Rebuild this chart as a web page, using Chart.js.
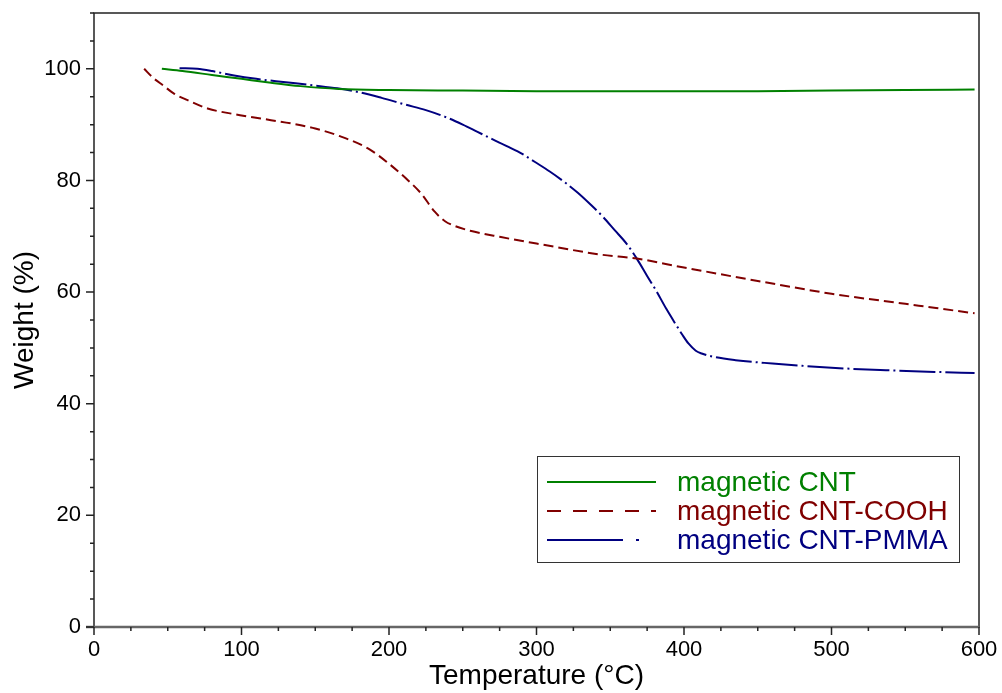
<!DOCTYPE html>
<html lang="en">
<head>
  <meta charset="UTF-8">
  <script src="https://cdn.jsdelivr.net/npm/chart.js@4.4.0/dist/chart.umd.min.js"></script>
  <title>TGA - magnetic CNT</title>
  <style>
    body { margin: 0; background: #fff; }
  </style>
</head>
<body>
  <canvas id="chart" width="1002" height="693"></canvas>

  <script>
    // 01 data (temperature in °C, weight in %)
    const cntTemp   = [46, 60, 80, 100, 120, 140, 166, 200, 250, 300, 350, 400, 450, 500, 550, 597];
    const cntWeight = [100.0, 99.6, 98.9, 98.2, 97.5, 96.9, 96.4, 96.2, 96.1, 96.0, 96.0, 96.0, 96.0, 96.1, 96.2, 96.3];

    const coohTemp   = [34, 40, 47, 54, 65, 77, 99, 120, 134, 150, 166, 186, 199, 213, 222, 231, 238, 245, 255, 275, 300, 344, 368, 400, 450, 500, 550, 597];
    const coohWeight = [100.0, 98.4, 97.0, 95.6, 94.2, 92.9, 91.7, 90.8, 90.2, 89.3, 88.0, 85.7, 83.2, 80.0, 77.6, 74.4, 72.7, 71.8, 71.0, 69.9, 68.7, 66.7, 66.0, 64.4, 62.0, 59.7, 57.9, 56.2];

    const pmmaTemp   = [58, 70, 80, 95, 110, 130, 150, 165, 180, 195, 211, 225, 238, 250, 260, 270, 281, 290, 299, 309, 319, 328, 337, 345, 353, 361, 368, 375, 381, 388, 394, 399, 403, 408, 412, 420, 435, 460, 480, 510, 537, 570, 597];
    const pmmaWeight = [100.1, 100.0, 99.6, 98.8, 98.2, 97.6, 97.0, 96.5, 95.8, 94.8, 93.6, 92.6, 91.4, 90.0, 88.7, 87.4, 86.0, 84.8, 83.3, 81.6, 79.7, 77.8, 75.6, 73.5, 71.1, 68.7, 66.0, 62.9, 60.3, 57.0, 54.4, 52.3, 50.8, 49.5, 49.0, 48.4, 47.8, 47.2, 46.8, 46.3, 46.0, 45.7, 45.5];

    const seriesLabels = ['magnetic CNT', 'magnetic CNT-COOH', 'magnetic CNT-PMMA'];
    const xTickLabels = [0, 100, 200, 300, 400, 500, 600];
    const yTickLabels = [0, 20, 40, 60, 80, 100];

    // 02 styles
    const colors = ['#008000', '#800000', '#000080'];
    const curveDash = [[], [10, 5], [36, 4, 2, 4]];
    const legendDash = [[], [14, 12], [76, 13, 3, 200]];
    const FONT = '"Liberation Sans", Arial, sans-serif';

    function toPoints(xs, ys) {
      return xs.map((t, i) => ({ x: t, y: ys[i] }));
    }

    // 03 plugin -- axis frame with major / minor tick marks
    const axisFrame = {
      id: 'axisFrame',
      afterDraw(chart) {
        const { ctx, chartArea: a, scales: { x, y } } = chart;
        ctx.save();
        ctx.strokeStyle = '#222';
        ctx.lineWidth = 1.5;
        ctx.strokeRect(a.left, a.top, a.right - a.left, a.bottom - a.top);

        ctx.strokeStyle = '#666';
        ctx.lineWidth = 2.5;
        ctx.beginPath();
        ctx.moveTo(a.left - 8, a.bottom);
        ctx.lineTo(a.right, a.bottom);
        ctx.stroke();

        ctx.lineWidth = 1.5;
        ctx.strokeStyle = '#222';
        ctx.beginPath();
        for (let v = 0; v <= 600; v += 25) {
          const px = x.getPixelForValue(v);
          const len = v % 100 === 0 ? 8 : 4;
          ctx.moveTo(px, a.bottom);
          ctx.lineTo(px, a.bottom + len);
        }
        for (let v = 0; v <= 110; v += 5) {
          const py = y.getPixelForValue(v);
          const len = v % 20 === 0 ? 8 : 4;
          ctx.moveTo(a.left, py);
          ctx.lineTo(a.left - len, py);
        }
        ctx.stroke();
        ctx.restore();
      }
    };

    // 04 plugin -- boxed legend inside the plot
    const boxLegend = {
      id: 'boxLegend',
      afterDraw(chart) {
        const { ctx, chartArea: a } = chart;
        const left = a.left + 443, top = a.top + 443, w = 422, h = 106;
        ctx.save();
        ctx.strokeStyle = '#333';
        ctx.lineWidth = 1;
        ctx.strokeRect(left + 0.5, top + 0.5, w, h);
        ctx.font = '28px ' + FONT;
        ctx.textBaseline = 'middle';
        chart.data.datasets.forEach((ds, i) => {
          const rowY = top + 26 + i * 29;
          ctx.strokeStyle = ds.borderColor;
          ctx.lineWidth = 2;
          ctx.setLineDash(legendDash[i]);
          ctx.beginPath();
          ctx.moveTo(left + 10, rowY);
          ctx.lineTo(left + 119, rowY);
          ctx.stroke();
          ctx.setLineDash([]);
          ctx.fillStyle = ds.borderColor;
          ctx.fillText(ds.label, left + 140, rowY + 1);
        });
        ctx.restore();
      }
    };

    // 05 create chart
    const points = [toPoints(cntTemp, cntWeight), toPoints(coohTemp, coohWeight), toPoints(pmmaTemp, pmmaWeight)];
    const elChart = document.getElementById('chart').getContext('2d');
    const myChart = new Chart(elChart, {
      type: 'scatter',
      data: {
        datasets: points.map((p, i) => ({
          label: seriesLabels[i],
          data: p,
          showLine: true,
          borderColor: colors[i],
          backgroundColor: colors[i],
          borderWidth: 2,
          borderDash: curveDash[i],
          pointRadius: 0,
          cubicInterpolationMode: 'monotone'
        }))
      },
      options: {
        responsive: false,
        animation: false,
        layout: { padding: 0 },
        plugins: {
          legend: { display: false },
          tooltip: { enabled: false }
        },
        scales: {
          x: {
            type: 'linear',
            min: 0,
            max: 600,
            grid: { display: false, drawTicks: false },
            border: { display: false },
            afterBuildTicks: (scale) => { scale.ticks = xTickLabels.map(v => ({ value: v })); },
            afterFit: (scale) => { scale.height = 66; scale.paddingLeft = 0; scale.paddingRight = 23; },
            ticks: { color: '#000', padding: 10, maxRotation: 0, font: { family: FONT, size: 22 } },
            title: { display: true, text: 'Temperature (°C)', color: '#000', padding: { top: 0, bottom: 0 }, font: { family: FONT, size: 28 } }
          },
          y: {
            min: 0,
            max: 110,
            grid: { display: false, drawTicks: false },
            border: { display: false },
            afterBuildTicks: (scale) => { scale.ticks = yTickLabels.map(v => ({ value: v })); },
            afterFit: (scale) => { scale.width = 94; scale.paddingTop = 13; scale.paddingBottom = 0; },
            ticks: { color: '#000', padding: 13, font: { family: FONT, size: 22 } },
            title: { display: true, text: 'Weight (%)', color: '#000', padding: { top: 8, bottom: 0 }, font: { family: FONT, size: 28 } }
          }
        }
      },
      plugins: [axisFrame, boxLegend]
    });
  </script>
</body>
</html>
